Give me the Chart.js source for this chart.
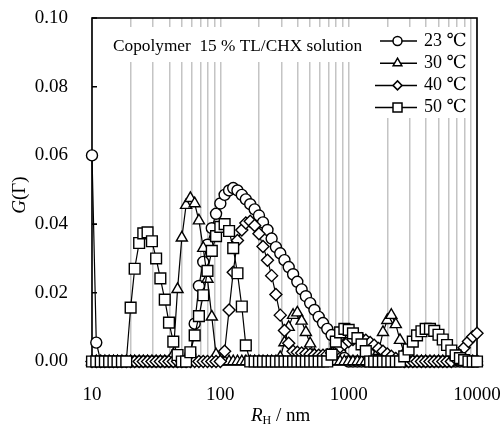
<!DOCTYPE html>
<html>
<head>
<meta charset="utf-8">
<script src="https://cdn.jsdelivr.net/npm/chart.js@4.4.1/dist/chart.umd.min.js"></script>
<style>
  html, body { margin: 0; padding: 0; background: #fff; }
  #wrap { width: 503px; height: 424px; position: relative; }
</style>
</head>
<body>
<div id="wrap"><canvas id="dlsChart"></canvas></div>
<script>
// hydrodynamic radius grid (nm), shared by all four temperatures
const radius = [
  10, 10.8, 11.7, 12.6, 13.6, 14.7, 15.8, 17.1, 18.5, 20.0,
  21.5, 23.3, 25.1, 27.1, 29.3, 31.6, 34.1, 36.9, 39.8, 43.0,
  46.4, 50.1, 54.1, 58.4, 63.1, 68.1, 73.6, 79.4, 85.8, 92.6,
  100, 108, 117, 126, 136, 147, 158, 171, 185, 200,
  215, 233, 251, 271, 293, 316, 341, 369, 398, 430,
  464, 501, 541, 584, 631, 681, 736, 794, 858, 926,
  1000, 1080, 1170, 1260, 1360, 1470, 1580, 1710, 1850, 2000,
  2150, 2330, 2510, 2710, 2930, 3160, 3410, 3690, 3980, 4300,
  4640, 5010, 5410, 5840, 6310, 6810, 7360, 7940, 8580, 9260,
  10000
];

const g23 = [
  0.060, 0.0055, 0, 0, 0, 0, 0, 0, 0, 0,
  0, 0, 0, 0, 0, 0, 0, 0, 0, 0,
  0, 0, 0, 0.002, 0.011, 0.022, 0.029, 0.034, 0.0388, 0.043,
  0.046, 0.0485, 0.0498, 0.0505, 0.0498, 0.0485, 0.0472, 0.0458, 0.0443, 0.0425,
  0.0405, 0.0383, 0.0358, 0.0333, 0.0315, 0.0295, 0.0275, 0.0254, 0.0232, 0.021,
  0.019, 0.017, 0.015, 0.013, 0.0112, 0.0095, 0.0077, 0.0052, 0.0028, 0.001,
  0, 0, 0, 0, 0, 0, 0, 0, 0, 0,
  0, 0, 0, 0, 0, 0, 0, 0, 0, 0,
  0, 0, 0, 0, 0, 0, 0, 0, 0, 0,
  0
];

const g30 = [
  0, 0, 0, 0, 0, 0, 0, 0, 0, 0,
  0, 0, 0, 0, 0, 0, 0, 0, 0, 0.002,
  0.021, 0.036, 0.0455, 0.0475, 0.046, 0.041, 0.033, 0.024, 0.013, 0.002,
  0, 0, 0, 0, 0, 0, 0, 0, 0, 0,
  0, 0, 0, 0, 0.0012, 0.0055, 0.010, 0.0135, 0.0142, 0.0118,
  0.0085, 0.0052, 0.002, 0, 0, 0, 0, 0, 0, 0,
  0, 0, 0, 0, 0, 0, 0, 0.003, 0.0085, 0.012,
  0.0135, 0.0108, 0.0062, 0.0025, 0, 0, 0, 0, 0, 0,
  0, 0, 0, 0, 0, 0, 0, 0, 0, 0,
  0
];

const g40 = [
  0, 0, 0, 0, 0, 0, 0, 0, 0, 0,
  0, 0, 0, 0, 0, 0, 0, 0, 0, 0,
  0, 0, 0, 0, 0, 0, 0, 0, 0, 0,
  0, 0.003, 0.015, 0.026, 0.0352, 0.0383, 0.0403, 0.0408, 0.0396, 0.0372,
  0.0335, 0.0295, 0.025, 0.0195, 0.0135, 0.009, 0.0053, 0.003, 0.0027, 0.0025,
  0.0023, 0.0021, 0.0019, 0.0018, 0.0018, 0.002, 0.0025, 0.0033, 0.0042, 0.005,
  0.0058, 0.0064, 0.0067, 0.0066, 0.0062, 0.0055, 0.0047, 0.0038, 0.003, 0.0022,
  0.0015, 0.0009, 0.0004, 0, 0, 0, 0, 0, 0, 0,
  0, 0, 0, 0, 0, 0.0008, 0.0022, 0.004, 0.0058, 0.0072,
  0.0082
];

const g50 = [
  0, 0, 0, 0, 0, 0, 0, 0, 0, 0.0157,
  0.027, 0.0345, 0.0373, 0.0376, 0.035, 0.030, 0.0242, 0.018, 0.0113, 0.0058,
  0.0019, 0, 0, 0.0027, 0.0076, 0.0132, 0.0193, 0.0264, 0.0322, 0.0365,
  0.0392, 0.040, 0.038, 0.033, 0.0257, 0.016, 0.0047, 0, 0, 0,
  0, 0, 0, 0, 0, 0, 0, 0, 0, 0,
  0, 0, 0, 0, 0, 0, 0.002, 0.0058, 0.0085, 0.0095,
  0.0092, 0.0082, 0.0068, 0.005, 0.003, 0, 0, 0, 0, 0,
  0, 0, 0, 0.0015, 0.0035, 0.0058, 0.0076, 0.0088, 0.0095, 0.0095,
  0.0089, 0.0078, 0.0064, 0.0048, 0.0032, 0.0018, 0.001, 0.0004, 0, 0,
  0
];

const seriesLabels = ['23 \u2103', '30 \u2103', '40 \u2103', '50 \u2103'];
const seriesMarkers = ['circle', 'triangle', 'rectRot', 'rect'];
const markerSizes = [5.5, 6.4, 6, 7.6];

const gridTicks = [10, 20, 30, 40, 50, 60, 70, 80, 90,
                   100, 200, 300, 400, 500, 600, 700, 800, 900,
                   1000, 2000, 3000, 4000, 5000, 6000, 7000, 8000, 9000, 10000];
const decadeLabels = [10, 100, 1000, 10000];
const noteText = 'Copolymer  15 % TL/CHX solution';

const SERIF = '"Liberation Serif", "DejaVu Serif", serif';

function toPoints(ys) {
  return radius.map((r, i) => ({ x: r, y: ys[i] }));
}

function drawMarker(ctx, style, x, y, r) {
  ctx.beginPath();
  if (style === 'circle') {
    ctx.arc(x, y, r, 0, Math.PI * 2);
  } else if (style === 'triangle') {
    ctx.moveTo(x, y - r);
    ctx.lineTo(x + r * 0.866, y + r * 0.5);
    ctx.lineTo(x - r * 0.866, y + r * 0.5);
    ctx.closePath();
  } else if (style === 'rectRot') {
    ctx.moveTo(x, y - r);
    ctx.lineTo(x + r, y);
    ctx.lineTo(x, y + r);
    ctx.lineTo(x - r, y);
    ctx.closePath();
  } else {
    ctx.rect(x - r, y - r, 2 * r, 2 * r);
  }
  ctx.fillStyle = '#fff';
  ctx.fill();
  ctx.stroke();
}

const decor = {
  id: 'decor',
  beforeDatasetsDraw(chart) {
    const { ctx, chartArea: a, scales: { y } } = chart;
    ctx.save();

    // white panels that interrupt the grid lines
    ctx.fillStyle = '#fff';
    ctx.fillRect(108, 27, 259, 35);
    ctx.fillRect(372, 27, 96, 91);

    ctx.fillStyle = '#000';
    ctx.textBaseline = 'middle';
    ctx.textAlign = 'left';
    ctx.font = '16px ' + SERIF;
    const fit = 16 * 250 / ctx.measureText(noteText).width;
    ctx.font = fit.toFixed(1) + 'px ' + SERIF;
    ctx.fillText(noteText, 113, 46);

    // legend
    ctx.strokeStyle = '#000';
    ctx.lineWidth = 1.5;
    const legendMarks = [4.5, 5, 4.5, 4.5];
    seriesLabels.forEach((lab, i) => {
      const ly = 41 + i * 22.2;
      const x0 = i < 2 ? 380 : 375;
      ctx.beginPath();
      ctx.moveTo(x0, ly);
      ctx.lineTo(417, ly);
      ctx.stroke();
      drawMarker(ctx, seriesMarkers[i], 397.5, ly, legendMarks[i]);
      ctx.fillStyle = '#000';
      ctx.font = '18px ' + SERIF;
      ctx.fillText(lab, 424, ly);
    });

    // frame
    ctx.lineWidth = 1.6;
    ctx.strokeRect(a.left, a.top, a.right - a.left, a.bottom - a.top);

    // inward tick marks on G axis
    ctx.beginPath();
    y.ticks.forEach(t => {
      const py = y.getPixelForValue(t.value);
      ctx.moveTo(a.left, py);
      ctx.lineTo(a.left + 5, py);
    });
    ctx.stroke();
    ctx.restore();
  },
  afterDraw(chart) {
    const { ctx } = chart;
    ctx.save();
    ctx.fillStyle = '#000';
    ctx.textBaseline = 'middle';

    // y title: G(Γ)
    ctx.translate(20, 195);
    ctx.rotate(-Math.PI / 2);
    ctx.font = 'italic 19px ' + SERIF;
    const wG = ctx.measureText('G').width;
    ctx.font = '19px ' + SERIF;
    const wRest = ctx.measureText('(\u0393)').width;
    let sx = -(wG + wRest) / 2;
    ctx.font = 'italic 19px ' + SERIF;
    ctx.textAlign = 'left';
    ctx.fillText('G', sx, 0);
    ctx.font = '19px ' + SERIF;
    ctx.fillText('(\u0393)', sx + wG, 0);
    ctx.restore();

    // x title: R_H / nm
    ctx.save();
    ctx.fillStyle = '#000';
    ctx.textBaseline = 'alphabetic';
    ctx.textAlign = 'left';
    let tx = 251;
    ctx.font = 'italic 19px ' + SERIF;
    ctx.fillText('R', tx, 421);
    tx += ctx.measureText('R').width;
    ctx.font = '12px ' + SERIF;
    ctx.fillText('H', tx, 424);
    tx += ctx.measureText('H').width;
    ctx.font = '19px ' + SERIF;
    ctx.fillText(' / nm', tx, 421);
    ctx.restore();
  }
};

const datasets = [g23, g30, g40, g50].map((vals, i) => ({
  label: seriesLabels[i],
  data: toPoints(vals),
  showLine: true,
  borderColor: '#000',
  borderWidth: 1.2,
  pointStyle: seriesMarkers[i],
  pointRadius: markerSizes[i],
  pointBackgroundColor: '#fff',
  pointBorderColor: '#000',
  pointBorderWidth: 1.4,
  clip: false,
  order: 4 - i
}));

new Chart(document.getElementById('dlsChart').getContext('2d'), {
  type: 'scatter',
  data: { datasets },
  options: {
    responsive: true,
    maintainAspectRatio: false,
    animation: false,
    layout: { autoPadding: false, padding: { top: 18, right: 26, left: 0, bottom: 0 } },
    plugins: {
      legend: { display: false },
      tooltip: { enabled: false }
    },
    scales: {
      x: {
        type: 'logarithmic',
        min: 10,
        max: 10000,
        afterBuildTicks: scale => {
          scale.ticks = gridTicks.map(v => ({ value: v }));
        },
        afterFit: scale => {
          scale.height = 62.5;
          scale.paddingLeft = 0;
          scale.paddingRight = 0;
        },
        ticks: {
          autoSkip: false,
          maxRotation: 0,
          padding: 22,
          color: '#000',
          font: { family: SERIF, size: 19 },
          callback: v => decadeLabels.includes(v) ? String(v) : ''
        },
        grid: { color: '#c4c4c4', lineWidth: 1.5, drawTicks: false },
        border: { display: false }
      },
      y: {
        min: 0,
        max: 0.1,
        afterFit: scale => {
          scale.width = 92;
          scale.paddingTop = 0;
          scale.paddingBottom = 0;
        },
        ticks: {
          stepSize: 0.02,
          padding: 24,
          color: '#000',
          font: { family: SERIF, size: 19 },
          callback: v => v.toFixed(2)
        },
        grid: { display: false, drawTicks: false },
        border: { display: false }
      }
    }
  },
  plugins: [decor]
});
</script>
</body>
</html>
